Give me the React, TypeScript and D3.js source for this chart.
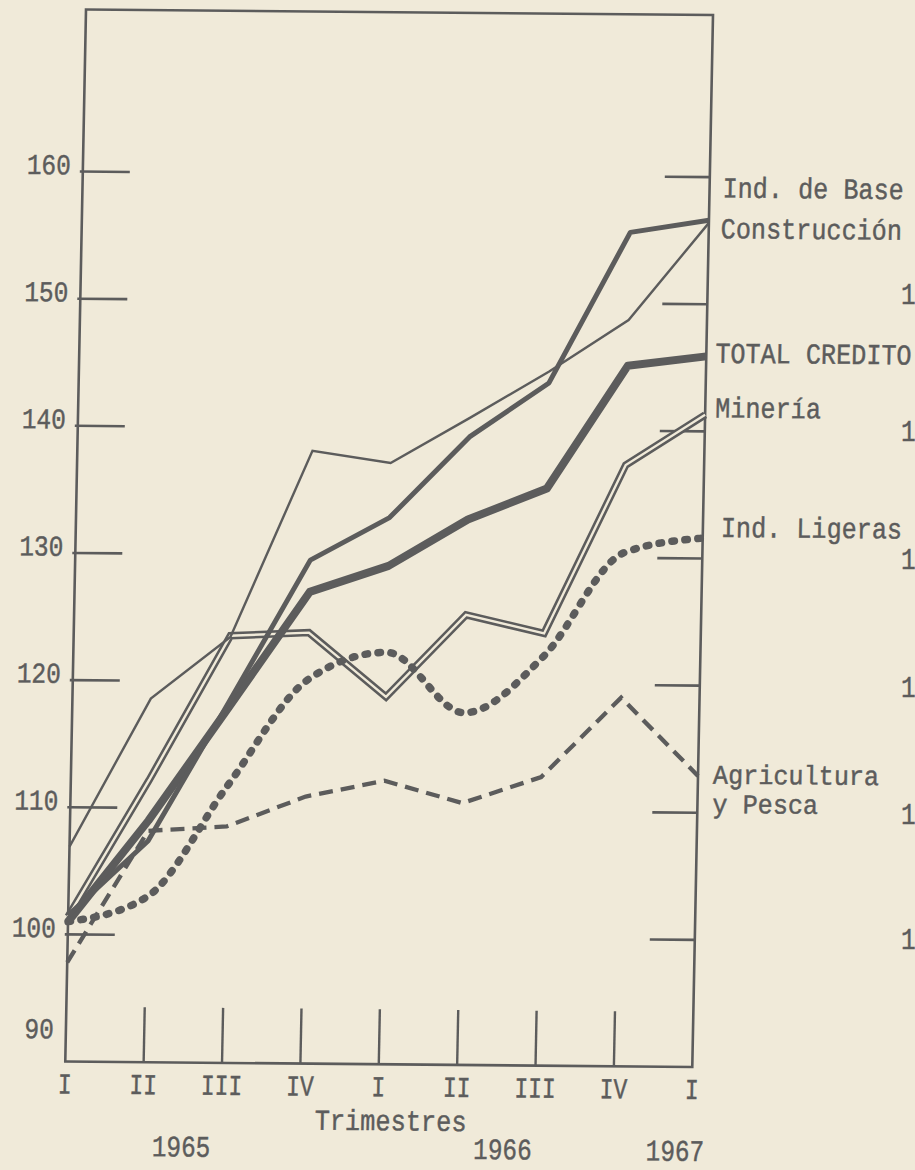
import * as d3 from "d3";

// Quarters 1965-I .. 1967-I, index numbers (1965-I ≈ 100)
const QUARTERS = ["I", "II", "III", "IV", "I", "II", "III", "IV", "I"];
const YEARS = ["1965", "1966", "1967"];
const Y_TICKS = [100, 110, 120, 130, 140, 150, 160];
const Y_LABELS = [90, 100, 110, 120, 130, 140, 150, 160];
// cut-off labels of the neighbouring chart at the right page edge
const EDGE_LABELS = ["150", "140", "130", "120", "110", "100"];

const IND_BASE = [101.5, 107.4, 118.4, 129.6, 133.0, 139.4, 143.7, 155.6, 156.6];
const CONSTRUCCION = [106.9, 118.6, 123.5, 138.2, 137.3, 140.9, 144.6, 148.7, 156.4];
const TOTAL_CREDITO = [101.0, 109.0, 118.0, 127.1, 129.2, 132.9, 135.4, 145.1, 145.9];
const MINERIA = [101.4, 112.2, 123.6, 123.9, 118.9, 125.4, 124.0, 137.3, 141.3];
const IND_LIGERAS = [101.0, 103.0, 111.8, 120.2, 122.4, 117.7, 122.2, 130.4, 131.6];
const AGRICULTURA = [97.8, 108.2, 108.6, 111.0, 112.3, 110.6, 112.7, 119.0, 112.9];

const LABELS = ["Ind. de Base", "Construcción", "TOTAL CREDITO", "Minería", "Ind. Ligeras", "Agricultura", "y Pesca"];

// layout (flat frame coords, later skewed like the scan)
const PAGE_W = 915;
const PAGE_H = 1170;
const FRAME_W = 627;
const FRAME_H = 1052;
const SKEW = "matrix(1, 0.0088, -0.0197, 1, 86, 9.5)";
const INK = "#5c5c5c";
const PAPER = "#f0ead9";
const FONT = "'Liberation Mono', 'DejaVu Sans Mono', monospace";

// label baselines in index units, and x offsets past the right axis
const LABEL_AT = [158.4, 155.2, 145.4, 141.1, 131.7, 112.3, 110.0];
const LABEL_DX = [13, 12, 9, 10, 18, 15, 15];
const YEAR_AT = [1.5, 5.6, 7.8];
const EDGE_Y = [304, 441, 569, 697, 824, 949];

type TTProps = {
  x: number;
  y: number;
  text: string;
  size?: number;
  charW?: number;
  anchor?: "start" | "middle" | "end";
};

function TypeText({ x, y, text, size = 29, charW = 14.7, anchor = "start" }: TTProps) {
  return (
    <text
      x={x}
      y={y}
      fontSize={size}
      fontFamily={FONT}
      fill={INK}
      stroke={INK}
      strokeWidth={0.45}
      textAnchor={anchor}
      textLength={text.length * charW}
      lengthAdjust="spacingAndGlyphs"
    >
      {text}
    </text>
  );
}

export default function App() {
  const x = d3.scaleLinear().domain([0, QUARTERS.length - 1]).range([0, FRAME_W]);
  const y = d3.scaleLinear().domain([90, 172.75]).range([FRAME_H, 0]);

  const straight = d3
    .line<number>()
    .x((_, i) => x(i))
    .y((v) => y(v));
  const smooth = d3
    .line<number>()
    .x((_, i) => x(i))
    .y((v) => y(v))
    .curve(d3.curveMonotoneX);

  return (
    <svg
      width={PAGE_W}
      height={PAGE_H}
      viewBox={`0 0 ${PAGE_W} ${PAGE_H}`}
      style={{ position: "absolute", left: 0, top: 0, display: "block", overflow: "hidden" }}
    >
      <rect width={PAGE_W} height={PAGE_H} fill={PAPER} />

      <g transform={SKEW}>
        {/* frame */}
        <rect width={FRAME_W} height={FRAME_H} fill="none" stroke={INK} strokeWidth={2.6} />

        {/* inside ticks, left and right */}
        {Y_TICKS.map((v) => (
          <g key={v} stroke={INK} strokeWidth={2.6}>
            <line x1={-3} x2={47} y1={y(v)} y2={y(v)} />
            <line x1={FRAME_W - 45} x2={FRAME_W} y1={y(v)} y2={y(v)} />
          </g>
        ))}
        {QUARTERS.slice(1, -1).map((_, k) => (
          <line
            key={k}
            x1={x(k + 1)}
            x2={x(k + 1)}
            y1={FRAME_H}
            y2={FRAME_H - 55}
            stroke={INK}
            strokeWidth={2.4}
          />
        ))}

        {/* y labels */}
        {Y_LABELS.map((v) => (
          <TypeText key={v} x={-12} y={v === 90 ? y(90) - 23 : y(v) + 3} text={String(v)} anchor="end" />
        ))}

        {/* x labels */}
        {QUARTERS.map((q, i) => (
          <TypeText key={i} x={x(i)} y={FRAME_H + 32} text={q} charW={13.8} anchor="middle" />
        ))}
        <TypeText x={x(4) + 13} y={FRAME_H + 66} text="Trimestres" charW={15.2} anchor="middle" />
        {YEARS.map((yr, i) => (
          <TypeText key={yr} x={x(YEAR_AT[i])} y={FRAME_H + 94} text={yr} size={30} charW={14.6} anchor="middle" />
        ))}

        {/* Minería: double line */}
        <path d={straight(MINERIA) ?? ""} fill="none" stroke={INK} strokeWidth={7.5} />
        <path d={straight(MINERIA) ?? ""} fill="none" stroke={PAPER} strokeWidth={2.4} />

        {/* Agricultura y Pesca: dashed */}
        <path
          d={straight(AGRICULTURA) ?? ""}
          fill="none"
          stroke={INK}
          strokeWidth={4.3}
          strokeDasharray="14 8"
        />

        {/* Ind. Ligeras: heavy dots */}
        <path
          d={smooth(IND_LIGERAS) ?? ""}
          fill="none"
          stroke={INK}
          strokeWidth={7.5}
          strokeLinecap="round"
          strokeDasharray="2.5 10.5"
        />

        {/* TOTAL CREDITO: heaviest */}
        <path
          d={straight(TOTAL_CREDITO) ?? ""}
          fill="none"
          stroke={INK}
          strokeWidth={8}
          strokeLinejoin="round"
        />

        {/* Ind. de Base: thick */}
        <path
          d={straight(IND_BASE) ?? ""}
          fill="none"
          stroke={INK}
          strokeWidth={5}
          strokeLinejoin="round"
        />

        {/* Construcción: thin */}
        <path d={straight(CONSTRUCCION) ?? ""} fill="none" stroke={INK} strokeWidth={2.4} />

        {/* series labels */}
        {LABELS.map((lab, i) => (
          <TypeText
            key={lab}
            x={FRAME_W + LABEL_DX[i]}
            y={y(LABEL_AT[i])}
            text={lab}
            size={i >= 5 ? 27 : 29}
            charW={15.1}
          />
        ))}
      </g>

      {EDGE_LABELS.map((lab, i) => (
        <TypeText key={lab} x={901} y={EDGE_Y[i]} text={lab} />
      ))}
    </svg>
  );
}
